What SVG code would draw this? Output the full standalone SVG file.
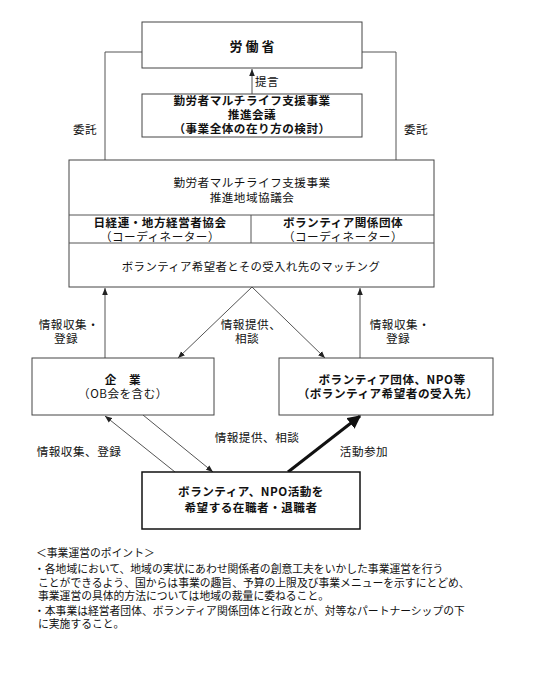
<svg xmlns="http://www.w3.org/2000/svg" width="538" height="674" viewBox="0 0 538 674">
<defs>
<marker id="ah" viewBox="0 0 10 10" refX="10" refY="5" markerWidth="7" markerHeight="7" markerUnits="userSpaceOnUse" orient="auto"><path d="M0,1 L10,5 L0,9 Z" fill="#222"/></marker>
<marker id="ahb" viewBox="0 0 10 10" refX="9" refY="5" markerWidth="4.5" markerHeight="4.5" orient="auto"><path d="M0,0 L10,5 L0,10 Z" fill="#111"/></marker>
</defs>
<style>
text{font-family:"Noto Sans CJK JP","Noto Sans",sans-serif;fill:#111;text-anchor:middle}
.box{fill:#fff;stroke:#444;stroke-width:1}
.ln{fill:none;stroke:#555;stroke-width:1}
.t12{font-size:11.6px;letter-spacing:0.5px}
.t11{font-size:11.4px;letter-spacing:0.4px}
.b{font-weight:bold}
.note{font-size:10.8px;text-anchor:start}
</style>
<rect width="538" height="674" fill="#fff"/>
<g id="connectors">
<line class="ln" x1="252" y1="94" x2="252" y2="69" marker-end="url(#ah)"/>
<polyline class="ln" points="142,52 105,52 105,214" marker-end="url(#ah)"/>
<polyline class="ln" points="362,52 396,52 396,214" marker-end="url(#ah)"/>
<line class="ln" x1="105" y1="358" x2="105" y2="288" marker-end="url(#ah)"/>
<line class="ln" x1="360" y1="358" x2="360" y2="288" marker-end="url(#ah)"/>
<line class="ln" x1="252" y1="287" x2="178" y2="358" marker-end="url(#ah)"/>
<line class="ln" x1="252" y1="287" x2="325" y2="358" marker-end="url(#ah)"/>
<line class="ln" x1="175" y1="472" x2="105" y2="416" marker-end="url(#ah)"/>
<line class="ln" x1="143" y1="415" x2="213" y2="472" marker-end="url(#ah)"/>
<line x1="288" y1="472" x2="360" y2="416" stroke="#111" stroke-width="3" marker-end="url(#ahb)"/>
<text class="t12" x="267" y="86">提言</text>
<text class="t12" x="85" y="134">委託</text>
<text class="t12" x="416" y="134">委託</text>
<text class="t12" x="69" y="329">情報収集・</text>
<text class="t12" x="66" y="343">登録</text>
<text class="t12" x="400" y="329">情報収集・</text>
<text class="t12" x="398" y="343">登録</text>
<text class="t12" x="251" y="329">情報提供、</text>
<text class="t12" x="247" y="343">相談</text>
<text class="t12" x="79" y="456">情報収集、登録</text>
<text class="t12" x="257" y="442">情報提供、相談</text>
<text class="t12" x="364" y="456">活動参加</text>
</g>
<g id="rodosho">
<rect class="box" x="142" y="22" width="220" height="46"/>
<text class="b" x="252" y="51" font-size="13px">労 働 省</text>
</g>
<g id="suishin-kaigi">
<rect class="box" x="142" y="94" width="220" height="43"/>
<text class="t12 b" x="252" y="105">勤労者マルチライフ支援事業</text>
<text class="t12 b" x="252" y="119">推進会議</text>
<text class="t12 b" x="252" y="133">（事業全体の在り方の検討）</text>
</g>
<g id="kyogikai">
<rect class="box" x="69" y="160" width="365" height="127"/>
<line class="ln" x1="69" y1="215" x2="434" y2="215"/>
<line class="ln" x1="69" y1="243" x2="434" y2="243"/>
<line class="ln" x1="251" y1="215" x2="251" y2="243"/>
<text class="t12" x="252" y="187">勤労者マルチライフ支援事業</text>
<text class="t12" x="252" y="202">推進地域協議会</text>
<text class="t12 b" x="160" y="227">日経連・地方経営者協会</text>
<text class="t12" x="160" y="241">（コーディネーター）</text>
<text class="t12 b" x="343" y="227">ボランティア関係団体</text>
<text class="t12" x="343" y="241">（コーディネーター）</text>
<text class="t11" x="251" y="271">ボランティア希望者とその受入れ先のマッチング</text>
</g>
<g id="kigyo">
<rect class="box" x="32" y="358" width="182" height="57"/>
<text class="t12 b" x="123" y="384">企　業</text>
<text class="t12" x="123" y="398">（OB会を含む）</text>
</g>
<g id="npo">
<rect class="box" x="279" y="358" width="214" height="57"/>
<text class="t12 b" x="392" y="384">ボランティア団体、NPO等</text>
<text class="t12 b" x="388" y="398">（ボランティア希望者の受入先）</text>
</g>
<g id="kibosha">
<rect x="142" y="472" width="218" height="57" fill="#fff" stroke="#111" stroke-width="1.5"/>
<text class="t12 b" x="251" y="496">ボランティア、NPO活動を</text>
<text class="t12 b" x="251" y="512">希望する在職者・退職者</text>
</g>
<g id="notes">
<text class="note" x="36" y="557" font-size="9px">＜事業運営のポイント＞</text>
<text class="note" x="34" y="573">・各地域において、地域の実状にあわせ関係者の創意工夫をいかした事業運営を行う</text>
<text class="note" x="38" y="587">ことができるよう、国からは事業の趣旨、予算の上限及び事業メニューを示すにとどめ、</text>
<text class="note" x="38" y="600">事業運営の具体的方法については地域の裁量に委ねること。</text>
<text class="note" x="34" y="615">・本事業は経営者団体、ボランティア関係団体と行政とが、対等なパートナーシップの下</text>
<text class="note" x="38" y="628">に実施すること。</text>
</g>
</svg>
